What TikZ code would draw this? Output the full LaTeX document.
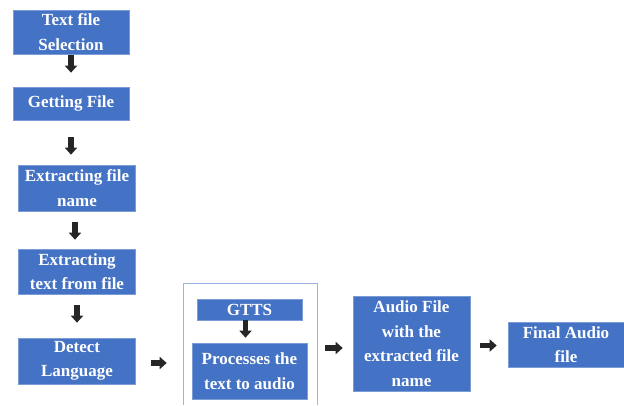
\documentclass[tikz,border=0pt]{standalone}
\usepackage{fontspec}
\setmainfont{Liberation Serif}
\usetikzlibrary{arrows.meta}
\definecolor{boxblue}{HTML}{4472C4}
\definecolor{framelight}{HTML}{9DB5E2}

\begin{document}
\begin{tikzpicture}[
    x=1pt, y=-1pt,
    stage/.style={fill=boxblue, draw=boxblue!70!white, line width=0.6pt,
                  text=white, font=\fontsize{17}{24.5}\selectfont\bfseries,
                  align=center, inner sep=0pt},
    flow/.style={black!85, line width=5.5pt,
                 -{Triangle[length=7pt, width=12pt]}}
]
\useasboundingbox (0,0) rectangle (624,405);

% ---------- frame round the gTTS part ----------
\draw[framelight, line width=0.8pt] (183,405) |- (317,283) -- (317,405);

% ---------- stages, left column ----------
\node[stage, minimum width=116pt, minimum height=44pt] (sel) at (71,32) {Text file\\Selection};
\node[stage, minimum width=116pt, minimum height=33pt] (get) at (71,103.5) {Getting File};
\node[stage, minimum width=117pt, minimum height=46pt] (ename) at (77,188) {Extracting file\\name};
\node[stage, minimum width=117pt, minimum height=45pt] (etext) at (77,271.5) {Extracting\\text from file};
\node[stage, minimum width=117pt, minimum height=46pt] (detect) at (77,361) {Detect\\Language};

% ---------- stages, bottom row ----------
\node[stage, minimum width=105pt, minimum height=21pt] (gtts) at (249.5,309.5) {GTTS};
\node[stage, minimum width=115pt, minimum height=56pt] (proc) at (249.5,371) {Processes the\\text to audio};
\node[stage, minimum width=117pt, minimum height=95pt] (afile) at (411.5,343.5) {Audio File\\with the\\extracted file\\name};
\node[stage, minimum width=116pt, minimum height=45pt] (final) at (566,344.5) {Final Audio\\file};

% ---------- arrows down ----------
\draw[flow, shorten <=1pt, shorten >=14pt] (sel.south) -- (get.north);
\draw[flow, shorten <=17pt, shorten >=10pt] (get.south) -- (get.south |- ename.north);
\draw[flow, shorten <=11pt, shorten >=9pt] ([xshift=-2pt]ename.south) -- ([xshift=-2pt]ename.south |- etext.north);
\draw[flow, shorten <=11pt, shorten >=15pt] (etext.south) -- (detect.north);
\draw[flow, shorten <=0pt, shorten >=5pt] ([xshift=-4pt]gtts.south) -- ([xshift=-4pt]gtts.south |- proc.north);

% ---------- arrows right ----------
\draw[flow, shorten <=15pt, shorten >=25pt] ([yshift=-2pt]detect.east) -- ([yshift=-2pt]detect.east -| proc.west);
\draw[flow, shorten <=18pt, shorten >=10pt] ([yshift=-4.5pt]afile.west -| proc.east) -- ([yshift=-4.5pt]afile.west);
\draw[flow, shorten <=10pt, shorten >=11pt] ([yshift=-1pt]final.west -| afile.east) -- ([yshift=-1pt]final.west);

\end{tikzpicture}
\end{document}
